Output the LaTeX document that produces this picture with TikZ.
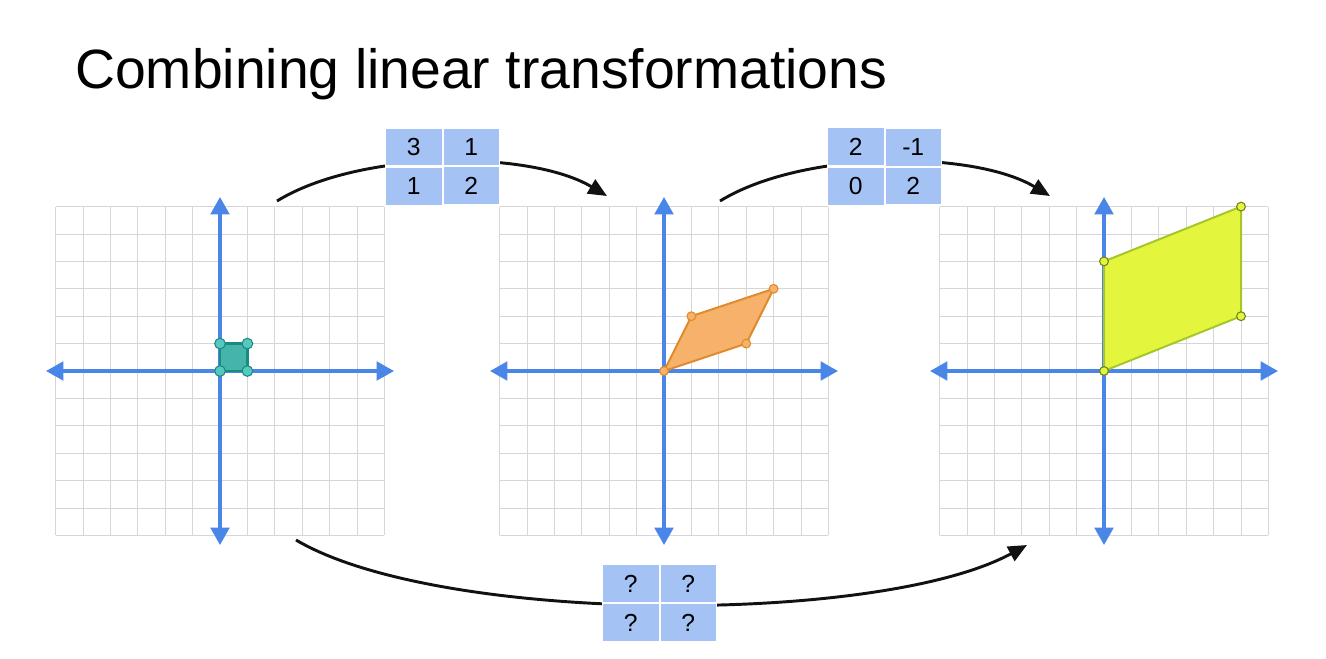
\documentclass[tikz,border=0pt]{standalone}
\usepackage{fontspec}
\setmainfont{Liberation Sans}
\usetikzlibrary{positioning,arrows.meta,matrix}
\definecolor{ink}{HTML}{111111}
\definecolor{gridgrey}{HTML}{D6D6D6}
\definecolor{axisblue}{HTML}{4A86E8}
\definecolor{cellblue}{HTML}{A4C2F4}
\definecolor{tealfill}{HTML}{45B5AC}
\definecolor{tealedge}{HTML}{1B8A80}
\definecolor{tealdot}{HTML}{55C8BF}
\definecolor{orangefill}{HTML}{F6B26B}
\definecolor{orangeedge}{HTML}{E08A2C}
\definecolor{limefill}{HTML}{E4F53E}
\definecolor{limeedge}{HTML}{A6C72A}
\definecolor{limedot}{HTML}{6F801C}
\tikzset{
  gridln/.style={draw=gridgrey, line width=0.7pt},
  axis/.style={draw=axisblue, line width=2.3pt,
               {Triangle[length=13pt,width=14pt]}-{Triangle[length=13pt,width=14pt]}},
  flow/.style={-{Triangle[length=14pt,width=12pt]}, line width=2.2pt, draw=ink},
  cell/.style={fill=cellblue, minimum width=41.6pt, minimum height=27.7pt,
               inner sep=0pt, font=\fontsize{18.5}{18.5}\selectfont},
  mat/.style={matrix of nodes, fill=white, inner sep=0.8pt,
              column sep=1.5pt, row sep=1.5pt, nodes={cell}},
  title/.style={font=\fontsize{41.5}{45}\selectfont, anchor=base west, inner sep=0pt},
  sq/.style={fill=tealfill, draw=tealedge, line width=1.8pt, line join=round},
  sqdot/.style={fill=tealdot, draw=tealedge, line width=0.8pt},
  para/.style={fill=orangefill, draw=orangeedge, line width=1.5pt, line join=round},
  paradot/.style={fill=orangefill, draw=orangeedge, line width=0.8pt},
  shear/.style={fill=limefill, draw=limeedge, line width=1.5pt, line join=round},
  sheardot/.style={fill=limefill, draw=limedot, line width=0.8pt},
}
\newcommand{\planegrid}{%
  \draw[gridln, step=1] (-6,-6) grid (6,6);
  \draw[axis] (-6.35,0) -- (6.35,0);
  \draw[axis] (0,-6.35) -- (0,6.35);
}

\begin{document}
\begin{tikzpicture}[x=0.75pt, y=-0.75pt]
\useasboundingbox (0,0) rectangle (1326,658);

\node[title] (head) at (75,88) {Combining linear transformations};

% --- origins of the three planes ---
\coordinate (o1) at (220,371);
\coordinate (o2) at (664,371);
\coordinate (o3) at (1104,371);

% --- plane 1: unit square ---
\begin{scope}[shift={(o1)}, x=20.55pt, y=20.55pt]
  \planegrid
  \filldraw[sq] (0,0) rectangle (1,1);
  \foreach \p in {(0,0),(1,0),(0,1),(1,1)}
    \filldraw[sqdot] \p circle (4pt);
\end{scope}

% --- plane 2: after first matrix ---
\begin{scope}[shift={(o2)}, x=20.55pt, y=20.55pt]
  \planegrid
  \filldraw[para] (0,0) -- (3,1) -- (4,3) -- (1,2) -- cycle;
  \foreach \p in {(0,0),(3,1),(4,3),(1,2)}
    \filldraw[paradot] \p circle (3.3pt);
\end{scope}

% --- plane 3: after second matrix ---
\begin{scope}[shift={(o3)}, x=20.55pt, y=20.55pt]
  \planegrid
  \filldraw[shear] (0,0) -- (5,2) -- (5,6) -- (0,4) -- cycle;
  \foreach \p in {(0,0),(5,2),(5,6),(0,4)}
    \filldraw[sheardot] \p circle (3.3pt);
\end{scope}

% --- connectors ---
\coordinate (f1s) at (277,201);
\coordinate (f1e) at (607,196);
\coordinate (f2s) at (720,201);
\coordinate (f2e) at (1050,196);
\coordinate (f3s) at (296,540);
\coordinate (f3e) at (1027,545);
\draw[flow] (f1s) .. controls (360,150) and (530,150) .. (f1e);
\draw[flow] (f2s) .. controls (803,150) and (973,150) .. (f2e);
\draw[flow] (f3s) .. controls (440,625) and (880,625) .. (f3e);

% --- matrices ---
\matrix[mat] (m1) at (442.5,166.5) {3 & 1\\ 1 & 2\\};
\matrix[mat] (m2) at (884.5,166.5) {2 & -1\\ 0 & 2\\};
\matrix[mat] (m3) at (659.5,603) {? & ?\\ ? & ?\\};

\end{tikzpicture}
\end{document}
